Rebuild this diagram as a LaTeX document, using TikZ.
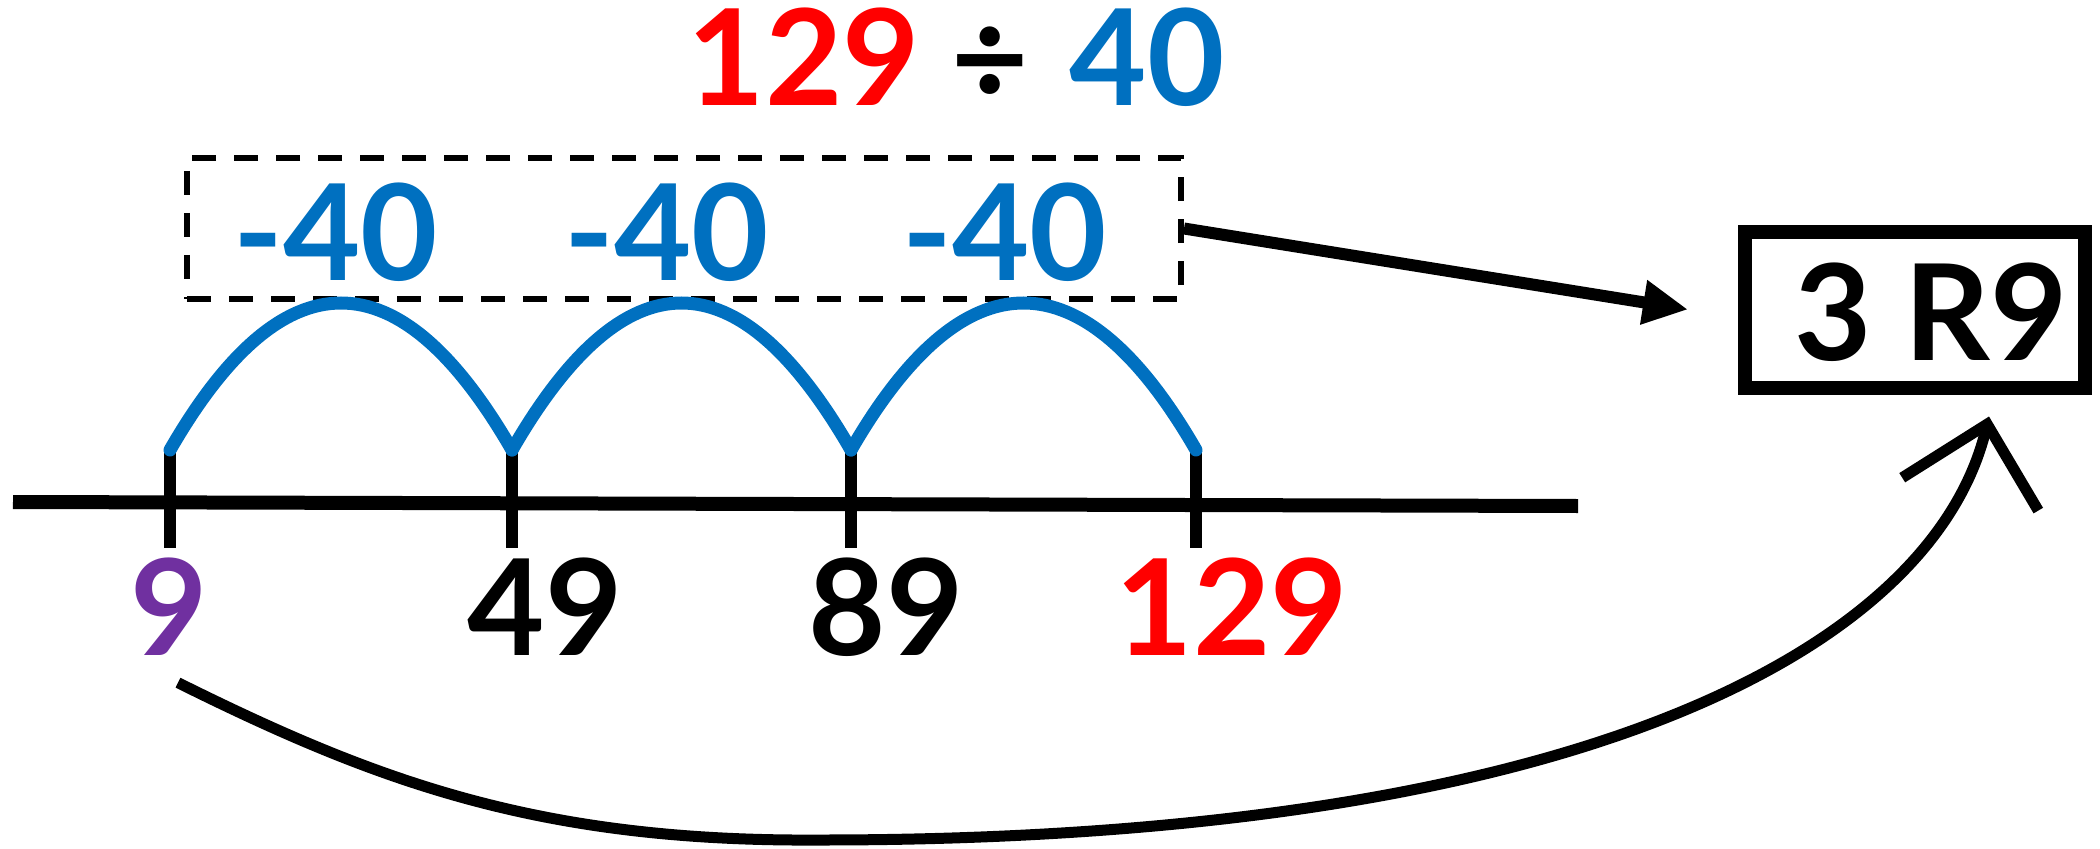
\documentclass[tikz,border=0pt]{standalone}
\usepackage{fontspec}
\setmainfont{Lato}
\usetikzlibrary{arrows.meta}
\definecolor{jumpblue}{HTML}{0070C0}
\definecolor{startpurple}{HTML}{7030A0}
\def\TickTop{450}
\def\TickLen{98}
\def\ArcRise{196}
\def\ArcPull{113}

\begin{document}
\begin{tikzpicture}[
  x=0.1mm, y=-0.1mm,
  num/.style    ={font=\fontsize{38}{40}\selectfont\bfseries, inner sep=0pt, anchor=base},
  tick/.style   ={line width=1.2mm},
  jump/.style   ={jumpblue, line width=1.3mm, line cap=round},
  dashbox/.style={draw, line width=0.6mm, dash pattern=on 2.4mm off 1.8mm,
                  minimum width=99.4mm, minimum height=14.1mm, inner sep=0pt},
  ansbox/.style ={draw, line width=1.4mm, minimum width=34mm, minimum height=15.6mm,
                  inner sep=0pt}
]
\useasboundingbox (0,0) rectangle (2100,848);

% --- Division sentence ------------------------------------------------
\node[num, red]      (dividend) at (804,106)  {129};
\node[num]           (divsign)  at (990,106)  {÷};
\node[num, jumpblue] (divisor)  at (1147,106) {40};

% --- Repeated subtraction, boxed --------------------------------------
\node[dashbox] (jumps) at (684,228.5) {};
\foreach \x/\n in {336/1,667/2,1005/3}
  \node[num, jumpblue] (minus\n) at (\x,281) {-40};

% --- Number line with ticks and values --------------------------------
\coordinate (lineL) at (13,502);
\coordinate (lineR) at (1578,506);
\draw[line width=1.4mm] (lineL) -- (lineR);
\foreach \x/\lab/\col/\lx [count=\i from 0] in
    {170/9/startpurple/169, 512/49/black/545, 851/89/black/886, 1196/129/red/1232} {
  \coordinate (t\i) at (\x,\TickTop);
  \draw[tick] (t\i) -- ++(0,\TickLen);
  \node[num, \col] (n\i) at (\lx,655) {\lab};
}

% --- Jumps of 40 -------------------------------------------------------
\foreach \a/\b in {0/1,1/2,2/3}
  \draw[jump] (t\a) .. controls +(\ArcPull,-\ArcRise) and +(-\ArcPull,-\ArcRise) .. (t\b);

% --- Answer -------------------------------------------------------------
\node[ansbox] (ans) at (1915,309.5) {};
\node[num, anchor=center] (ansval) at ([xshift=1.6mm, yshift=-0.3mm]ans.center) {3 R9};
\draw[line width=1.2mm, -{Triangle[length=4.5mm, width=4.2mm]}]
  (jumps.east) -- ([xshift=-5mm]ans.west);

% remainder carried back up to the answer
\draw[line width=1.1mm, -{Straight Barb[length=7.2mm, width=14mm]}]
  ([shift={(9,27)}]n0.south)
    .. controls (378,782) and (540,842) .. (820,840)
    .. controls (1600,840) and (1935,640) .. ([shift={(74,22)}]ans.south);

\end{tikzpicture}
\end{document}
